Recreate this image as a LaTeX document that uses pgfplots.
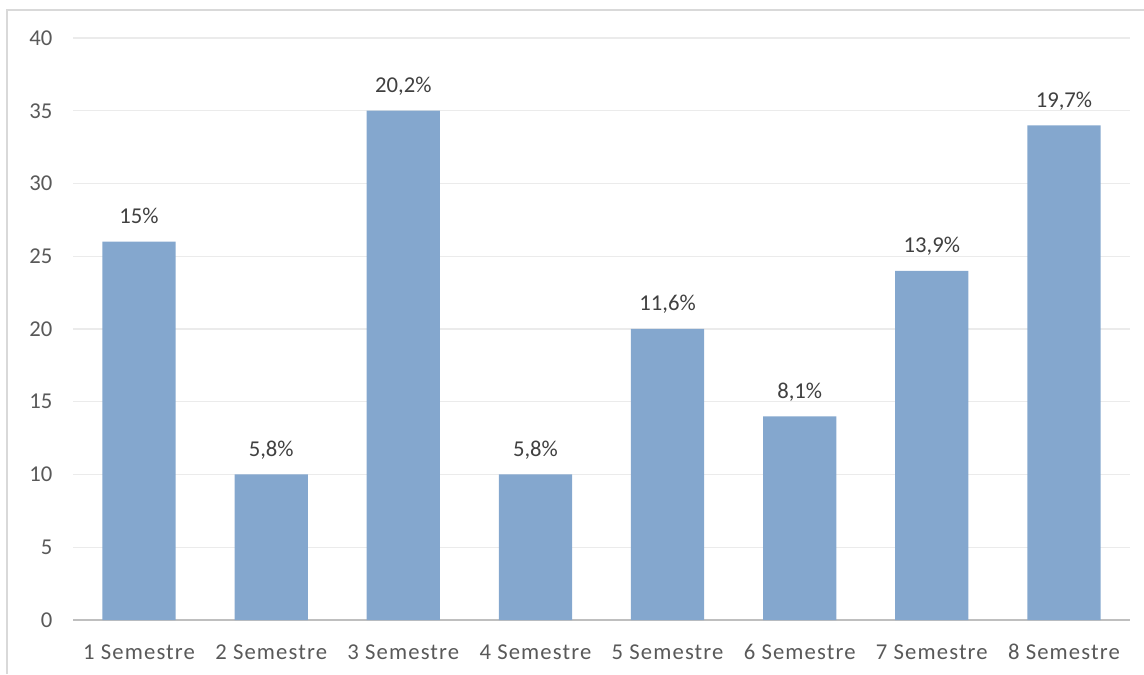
\documentclass[border=0pt]{standalone}
\usepackage{pgfplots}
\pgfplotsset{compat=1.18}
\usepackage{fontspec}
\setmainfont{Carlito}
\newfontfamily\spaced[LetterSpace=5]{Carlito}
\definecolor{barblue}{RGB}{132,167,206}
\definecolor{gridgray}{RGB}{235,235,235}
\definecolor{axisgray}{RGB}{191,191,191}
\definecolor{ticktext}{RGB}{89,89,89}
\definecolor{labeltext}{RGB}{64,64,64}
\definecolor{bordergray}{RGB}{217,217,217}
\begin{document}
\begin{tikzpicture}[x=0.75pt,y=0.75pt]
\useasboundingbox (0,0) rectangle (1144,674);
\draw[bordergray, line width=1.5pt] (7,0) -- (7,664) -- (1144,664);
\begin{axis}[
  at={(73*0.75pt,54*0.75pt)}, anchor=south west,
  scale only axis,
  width=1057*0.75pt, height=582*0.75pt,
  xmin=-0.5, xmax=7.5, ymin=0, ymax=40,
  ytick={0,5,...,40},
  xtick={0,...,7},
  xticklabels={1 Semestre,2 Semestre,3 Semestre,4 Semestre,5 Semestre,6 Semestre,7 Semestre,8 Semestre},
  axis lines*=left,
  y axis line style={draw=none},
  x axis line style={draw=axisgray, line width=1.6pt, -},
  major tick length=0pt,
  ymajorgrids,
  grid style={draw=gridgray, line width=1pt},
  tick label style={font=\fontsize{17}{20}\selectfont, text=ticktext},
  xticklabel style={font=\fontsize{17}{20}\spaced, anchor=base, yshift=-29.25pt},
  yticklabel style={xshift=-12pt},
  /pgf/number format/assume math mode=true,
  ybar, bar width=0.555,
  nodes near coords,
  point meta=explicit symbolic,
  every node near coord/.append style={font=\fontsize{17}{20}\selectfont, text=labeltext, anchor=base, yshift=13.5pt},
]
\addplot[fill=barblue, draw=none] table[meta=lab] {
x y lab
0 26 15\%
1 10 5,8\%
2 35 20,2\%
3 10 5,8\%
4 20 11,6\%
5 14 8,1\%
6 24 13,9\%
7 34 19,7\%
};
\end{axis}
\end{tikzpicture}
\end{document}
